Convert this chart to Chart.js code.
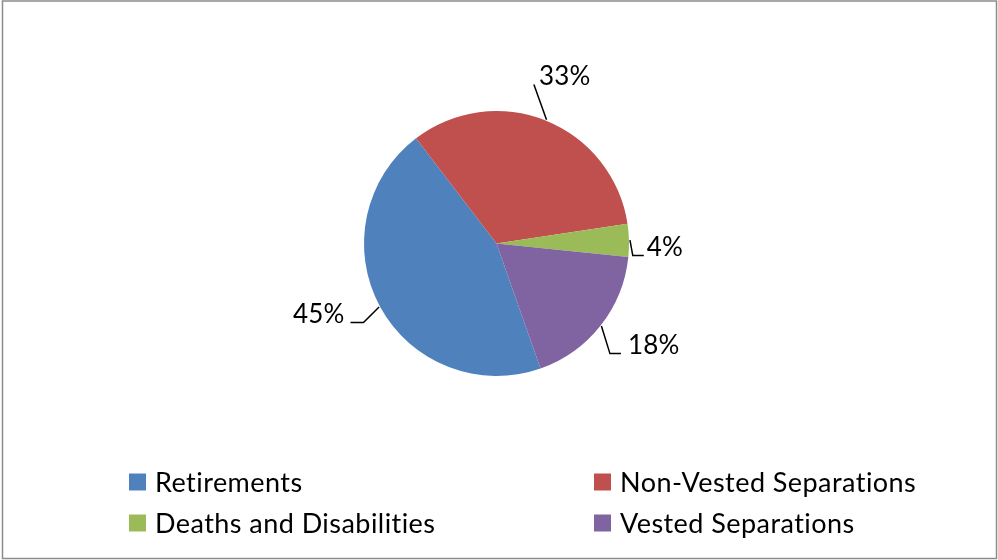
<!DOCTYPE html>
<html>
<head>
<meta charset="utf-8">
<script src="https://cdn.jsdelivr.net/npm/chart.js@4.4.1/dist/chart.umd.min.js"></script>
<style>
  html, body { margin: 0; padding: 0; background: #fff; }
  #wrap { width: 998px; height: 560px; position: relative; }
</style>
</head>
<body>
<div id="wrap"><canvas id="pie"></canvas></div>
<script>
const categories = ['Retirements', 'Non-Vested Separations', 'Deaths and Disabilities', 'Vested Separations']
const shares = [45, 33, 4, 18]
const colors = ['#4F81BD', '#C0504D', '#9BBB59', '#8064A2']

const LABEL_FONT = '26px Lato, "Open Sans", sans-serif'
const LEGEND_FONT = '27px Lato, "Open Sans", sans-serif'

// where each percentage label sits relative to its slice
const LABEL_STYLE = [
  { dist: 59, shift: 6.6, gap: 6, hook: 13 },
  { dist: 48, shift: 0.2, gap: 5, hook: 0 },
  { dist: 36, shift: 2.8, gap: 3, hook: 11 },
  { dist: 55, shift: -5.2, gap: 7, hook: 11 },
]

const frame = {
  id: 'frame',
  beforeDraw(chart) {
    const ctx = chart.ctx
    ctx.save()
    ctx.strokeStyle = '#8c8c8c'
    ctx.lineWidth = 1.5
    ctx.strokeRect(2.5, 1, 994, 557.5)
    ctx.restore()
  },
}

const pieLabels = {
  id: 'pieLabels',
  afterDatasetsDraw(chart) {
    const ctx = chart.ctx
    const meta = chart.getDatasetMeta(0)
    ctx.save()
    ctx.font = LABEL_FONT
    ctx.letterSpacing = '0.2px'
    ctx.fillStyle = '#000'
    ctx.strokeStyle = '#000'
    ctx.lineWidth = 1.5
    ctx.textBaseline = 'middle'
    meta.data.forEach((arc, i) => {
      const p = arc.getProps(['x', 'y', 'startAngle', 'endAngle', 'outerRadius'], true)
      const st = LABEL_STYLE[i]
      const mid = (p.startAngle + p.endAngle) / 2
      const la = mid + st.shift * Math.PI / 180
      const lx = p.x + Math.cos(la) * (p.outerRadius + st.dist)
      const ly = p.y + Math.sin(la) * (p.outerRadius + st.dist)
      const text = shares[i] + '%'
      const w = ctx.measureText(text).width
      ctx.textAlign = 'center'
      ctx.fillText(text, lx, ly)

      const left = Math.cos(la) < 0
      const side = left ? lx + w / 2 + st.gap : lx - w / 2 - st.gap
      const by = ly + 8
      const sx = p.x + Math.cos(mid) * (p.outerRadius + 1)
      const sy = p.y + Math.sin(mid) * (p.outerRadius + 1)
      const ex = left ? side + st.hook : side - st.hook
      ctx.beginPath()
      ctx.moveTo(sx, sy)
      ctx.lineTo(ex, by)
      ctx.lineTo(side, by)
      ctx.stroke()
    })
    ctx.restore()
  },
}

const legendBlock = {
  id: 'legendBlock',
  afterDraw(chart) {
    const ctx = chart.ctx
    const cols = [129, 594]
    const rows = [482, 523]
    const box = 17
    ctx.save()
    ctx.font = LEGEND_FONT
    ctx.letterSpacing = '0.45px'
    ctx.textAlign = 'left'
    ctx.textBaseline = 'middle'
    categories.forEach((name, i) => {
      const x = cols[i % 2]
      const y = rows[Math.floor(i / 2)]
      ctx.fillStyle = colors[i]
      ctx.fillRect(x, y - box / 2, box, box)
      ctx.fillStyle = '#000'
      ctx.fillText(name, x + box + 9, y + 1)
    })
    ctx.restore()
  },
}

new Chart(document.getElementById('pie'), {
  type: 'pie',
  data: {
    labels: categories,
    datasets: [
      {
        data: shares,
        backgroundColor: colors,
        borderWidth: 0,
      },
    ],
  },
  options: {
    responsive: true,
    maintainAspectRatio: false,
    animation: false,
    rotation: 160.6,
    layout: { padding: { top: 111, bottom: 184, left: 0, right: 5 } },
    plugins: {
      legend: { display: false },
      tooltip: { enabled: false },
    },
  },
  plugins: [frame, pieLabels, legendBlock],
})
</script>
</body>
</html>
